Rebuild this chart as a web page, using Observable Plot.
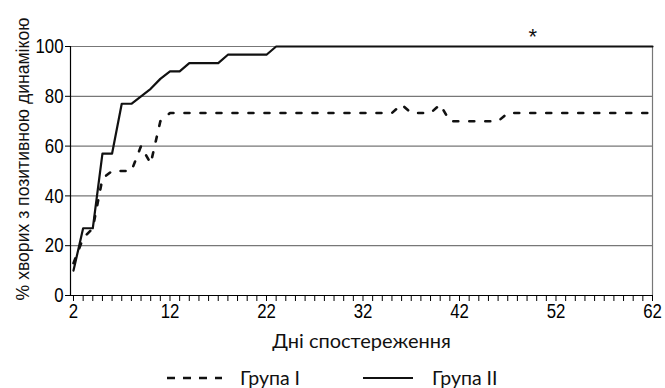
<!DOCTYPE html>
<html><head><meta charset="utf-8">
<script src="https://cdn.jsdelivr.net/npm/d3@7"></script>
<script src="https://cdn.jsdelivr.net/npm/@observablehq/plot@0.6"></script>
<style>
body{margin:0;background:#fff;width:665px;height:388px;overflow:hidden;}
#chart svg{display:block;}
#legend{position:relative;height:36px;font-family:Lato,"Open Sans",sans-serif;font-size:19.5px;line-height:20px;color:#111;}
#legend .item{position:absolute;top:16px;display:flex;align-items:center;height:20px;}
#legend .item svg{display:block;}
</style></head><body><div id="chart"></div><div id="legend"></div><script>
const days1 = [2,3,4,5,6,8,9,10,11,12,35,36,37,39,40,41,46,47,62];
const group1 = [13,23,27,47,50,50,60,53,70,73.3,73.3,76.7,73.3,73.3,76.7,70,70,73.3,73.3];
const days2 = [2,3,4,5,6,7,8,9,10,11,12,13,14,17,18,22,23,62];
const group2 = [10,27,27,57,57,77,77,80,83,87,90,90,93.3,93.3,96.7,96.7,100,100];
const xTicks = [2,12,22,32,42,52,62];
const yTicks = [0,20,40,60,80,100];
const gridValues = [20,40,60,80,100];
const seriesNames = ["Група I","Група II"];
const xTitle = "Дні спостереження";
const yTitle = "% хворих з позитивною динамікою";
const markLabel = "*";
const markDay = 49.6, markValue = 104;

const s1 = days1.map((d,i)=>({day:d, v:group1[i]}));
const s2 = days2.map((d,i)=>({day:d, v:group2[i]}));
const xMin = 1.69;

const chart = Plot.plot({
  width:665, height:352,
  marginLeft:70, marginRight:13, marginTop:46, marginBottom:57,
  x:{domain:[xMin,62]},
  y:{domain:[0,100]},
  style:{fontFamily:"'Liberation Sans',Arial,sans-serif", fontSize:"21px", color:"#000", background:"#fff", overflow:"visible"},
  marks:[
    Plot.ruleY(gridValues, {stroke:"#777", strokeWidth:1.2}),
    Plot.ruleX([62], {y1:0, y2:100, stroke:"#777", strokeWidth:1.2}),
    Plot.axisX({ticks:d3.range(2,63), tickFormat:d => xTicks.includes(d) ? String(d) : "", tickSize:6, tickPadding:2, label:null, stroke:"#000", fontSize:21}),
    Plot.axisY({ticks:yTicks, tickSize:5, tickPadding:2, label:null, stroke:"#000", fontSize:21}),
    Plot.ruleX([xMin], {y1:0, y2:100, stroke:"#000", strokeWidth:1.2}),
    Plot.ruleY([0], {stroke:"#000", strokeWidth:1.2}),
    Plot.line(s1, {x:"day", y:"v", stroke:"#111", strokeWidth:2.6, strokeDasharray:"5,11"}),
    Plot.line(s2, {x:"day", y:"v", stroke:"#111", strokeWidth:2.2}),
    Plot.text([markLabel], {x:()=>markDay, y:()=>markValue, fontSize:22, fontFamily:"Liberation Sans", fill:"#111"}),
    Plot.text([xTitle], {frameAnchor:"bottom", lineAnchor:"middle", dy:46, fontFamily:"Lato", fontSize:20, fill:"#111"}),
    Plot.text([yTitle], {frameAnchor:"left", textAnchor:"middle", lineAnchor:"middle", rotate:-90, dx:-47, dy:-12, fontFamily:"Liberation Sans", fontSize:18, fill:"#111", className:"ytitle"})
  ]
});
document.getElementById("chart").appendChild(chart);

// condense tick labels (narrow font look)
chart.querySelectorAll('g[aria-label="x-axis tick label"] text, g[aria-label="y-axis tick label"] text').forEach(t=>{
  const tr = t.getAttribute("transform");
  if (tr) t.setAttribute("transform", tr + " scale(0.8,1)");
  else {
    const x = t.getAttribute("x")||0, y = t.getAttribute("y")||0;
    t.removeAttribute("x"); t.removeAttribute("y");
    t.setAttribute("transform", `translate(${x},${y}) scale(0.8,1)`);
  }
});
// size the y title so its length matches the reference (~283px)
chart.querySelectorAll('.ytitle text').forEach(t=>{
  const len = t.getComputedTextLength();
  if (len > 0) t.setAttribute("font-size", (18 * 283 / len).toFixed(2));
});

const legend = d3.select("#legend");
const items = [
  {name:seriesNames[0], left:167, w:55, dash:"8,8", sw:2.6, textGap:18},
  {name:seriesNames[1], left:363, w:50, dash:null, sw:2.2, textGap:19}
];
items.forEach(it=>{
  const div = legend.append("div").attr("class","item").style("left", it.left+"px");
  const svg = div.append("svg").attr("width",it.w).attr("height",20);
  svg.append("line").attr("x1",0).attr("x2",it.w).attr("y1",10).attr("y2",10)
    .attr("stroke","#111").attr("stroke-width",it.sw).attr("stroke-dasharray",it.dash);
  div.append("span").style("margin-left", it.textGap+"px").text(it.name);
});
</script></body></html>
